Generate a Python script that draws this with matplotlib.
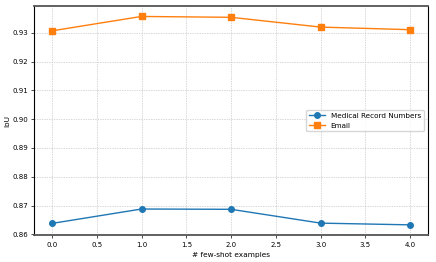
import matplotlib
matplotlib.use("Agg")
import matplotlib.pyplot as plt

shots = [0, 1, 2, 3, 4]
mrn_iou = [0.8638, 0.8688, 0.8687, 0.8639, 0.8633]
email_iou = [0.9307, 0.9357, 0.9354, 0.9320, 0.9311]

fig, ax = plt.subplots(figsize=(4.36, 2.62), dpi=100)

ax.plot(shots, mrn_iou, marker="o", color="#1f77b4", lw=1.0, ms=4, label="Medical Record Numbers")
ax.plot(shots, email_iou, marker="s", color="#ff7f0e", lw=1.0, ms=4, label="Email")

ax.set_xlabel("# few-shot examples", fontsize=5.3, labelpad=3)
ax.set_ylabel("IoU", fontsize=5.3, labelpad=1)
ax.tick_params(labelsize=5.0, length=2, width=0.5, pad=2.5)
ax.grid(True, ls=(0, (2, 1.5)), color="#c8c8c8", lw=0.5)
for s in ["top", "bottom"]:
    ax.spines[s].set_color("#555555")
    ax.spines[s].set_linewidth(1.3)
for s in ["left", "right"]:
    ax.spines[s].set_color("black")
    ax.spines[s].set_linewidth(0.8)

ax.legend(loc="center right", fontsize=5.2, frameon=True, handlelength=2.2,
          borderaxespad=0.6)

fig.subplots_adjust(left=0.078, right=0.982, top=0.977, bottom=0.102)
fig.savefig("out.png", dpi=100)
